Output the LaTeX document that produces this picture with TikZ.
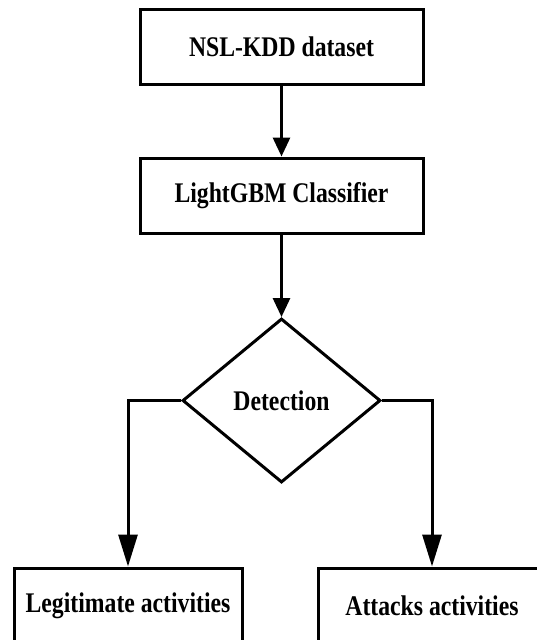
\documentclass[tikz,border=0pt]{standalone}
\usepackage{graphicx}
\usepackage{fontspec}
\setmainfont{Liberation Serif}
\usetikzlibrary{arrows.meta,shapes.geometric}
\newcommand\lblfont{\bfseries\fontsize{23.7pt}{28pt}\selectfont}
\newcommand\stxt[1]{\scalebox{1}[1.2]{#1}}
\tikzset{
  stepbox/.style={draw=black, line width=3pt, rectangle, inner sep=0pt,
    minimum width=283pt, minimum height=75pt, font=\lblfont},
  outbox/.style={stepbox, minimum width=228pt},
  decision/.style={draw=black, line width=3pt, diamond, inner sep=0pt, aspect=1.2,
    minimum width=198pt, minimum height=164pt, font=\lblfont},
  conn/.style={line width=3pt, draw=black},
  smalltip/.style={-{Triangle[length=19pt,width=17pt]}},
  bigtip/.style={-{Triangle[length=32pt,width=19pt]}}
}
\begin{document}
\begin{tikzpicture}[x=1pt,y=-1pt]
  \useasboundingbox (0,0) rectangle (537,640);
  \fill[white] (0,0) rectangle (537,640);
  \clip (0,0) rectangle (537,640);
  \node[stepbox] (data) at (281.5,46.5) {\stxt{NSL-KDD dataset}};
  \node[stepbox] (clf) at (281.5,195.5) {\stxt{LightGBM Classifier}};
  \node[decision] (det) at (281.5,400.5) {\stxt{Detection}};
  \node[outbox] (legit) at (128,605.5) {\stxt{Legitimate activities}};
  \node[outbox] (attack) at (432,605.5) {\stxt{Attacks activities}};
  \draw[conn,smalltip] (data.south) -- (clf.north);
  \draw[conn,smalltip] (clf.south) -- (det.north);
  \draw[conn,bigtip] (det.west) -| (legit.north);
  \draw[conn,bigtip] (det.east) -| (attack.north);
\end{tikzpicture}
\end{document}
